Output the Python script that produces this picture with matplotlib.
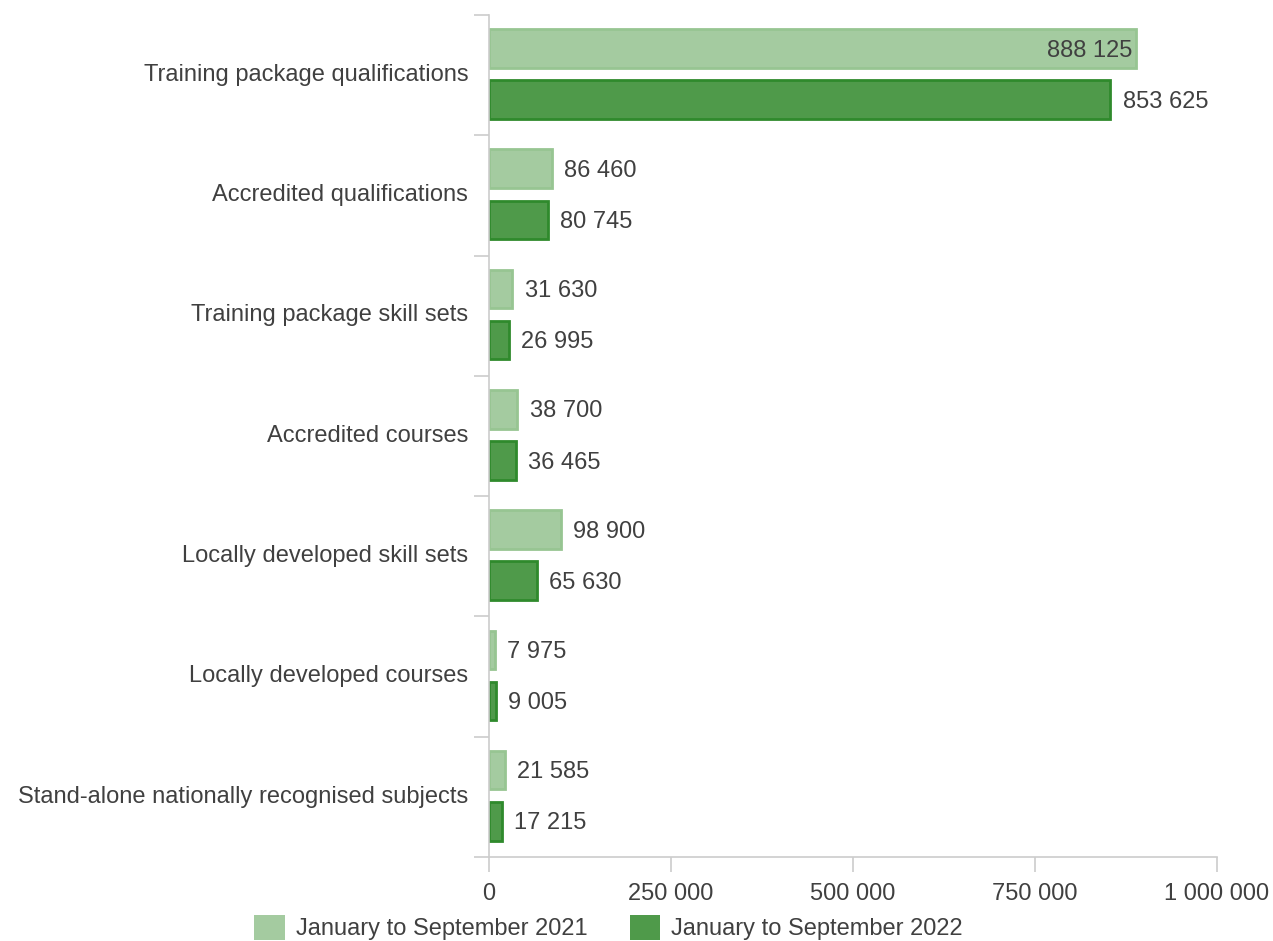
import matplotlib
matplotlib.use("Agg")
import matplotlib.pyplot as plt
from matplotlib.patches import Patch
from matplotlib.transforms import ScaledTranslation

categories = [
    "Training package qualifications",
    "Accredited qualifications",
    "Training package skill sets",
    "Accredited courses",
    "Locally developed skill sets",
    "Locally developed courses",
    "Stand-alone nationally recognised subjects",
]
values_2021 = [888125, 86460, 31630, 38700, 98900, 7975, 21585]
values_2022 = [853625, 80745, 26995, 36465, 65630, 9005, 17215]
series_names = ["January to September 2021", "January to September 2022"]
x_ticks = [0, 250000, 500000, 750000, 1000000]

LIGHT = "#a4cba0"; LIGHT_EDGE = "#97c592"
DARK = "#4f9a4a"; DARK_EDGE = "#2f8a2c"
TEXT = "#404040"; AXIS = "#cccccc"
FS = 17

plt.rcParams.update({"font.family": ["Liberation Sans", "DejaVu Sans"], "font.size": FS})


def fmt(v):
    return f"{v:,}".replace(",", " ")


fig = plt.figure(figsize=(12.73, 9.41), dpi=100)
ax = fig.add_axes([489 / 1273, 1 - 857 / 941, (1217 - 489) / 1273, (857 - 15) / 941])

n = len(categories)
ys = list(range(n))
h = 0.32
for vals, off, fc, ec in [(values_2021, -0.222, LIGHT, LIGHT_EDGE), (values_2022, 0.203, DARK, DARK_EDGE)]:
    pos = [y + off for y in ys]
    ax.barh(pos, vals, height=h, color=fc, edgecolor=ec, linewidth=2)
    for p, v in zip(pos, vals):
        # the longest bar gets its label inside, like the original
        if v > 870000:
            ax.annotate(fmt(v), (v, p), xytext=(-2, -1.5), textcoords="offset points",
                        ha="right", va="center", color=TEXT, fontsize=FS)
        else:
            ax.annotate(fmt(v), (v, p), xytext=(9, -1.5), textcoords="offset points",
                        ha="left", va="center", color=TEXT, fontsize=FS)

ax.set_xlim(0, 1000000)
ax.set_ylim(n - 0.5, -0.5)
ax.set_xticks(x_ticks)
ax.set_xticklabels([fmt(t) for t in x_ticks], color=TEXT, fontsize=FS)
ax.tick_params(axis="x", length=11, width=1.2, color=AXIS, pad=8)

ax.set_yticks([i - 0.5 for i in range(n + 1)])
ax.set_yticklabels([])
ax.tick_params(axis="y", which="major", length=11, width=1.2, color=AXIS)
ax.set_yticks(ys, minor=True)
ax.set_yticklabels(categories, minor=True, color=TEXT, fontsize=FS)
ax.tick_params(axis="y", which="minor", length=0, pad=15)
for lab in ax.get_yticklabels(minor=True):
    lab.set_transform(lab.get_transform() + ScaledTranslation(0, 2 / 72, fig.dpi_scale_trans))

for s in ["top", "right"]:
    ax.spines[s].set_visible(False)
for s in ["left", "bottom"]:
    ax.spines[s].set_color(AXIS)
    ax.spines[s].set_linewidth(1.2)
ax.spines["bottom"].set_bounds(0, 1000000)

handles = [Patch(facecolor=LIGHT, edgecolor="none"), Patch(facecolor=DARK, edgecolor="none")]
fig.legend(handles, series_names, loc="lower left", bbox_to_anchor=(233 / 1273, -0.022),
           ncol=2, frameon=False, fontsize=FS, labelcolor=TEXT,
           handlelength=1.3, handleheight=1.3, handletextpad=0.45, columnspacing=1.8)

fig.savefig("out.png", dpi=100)
